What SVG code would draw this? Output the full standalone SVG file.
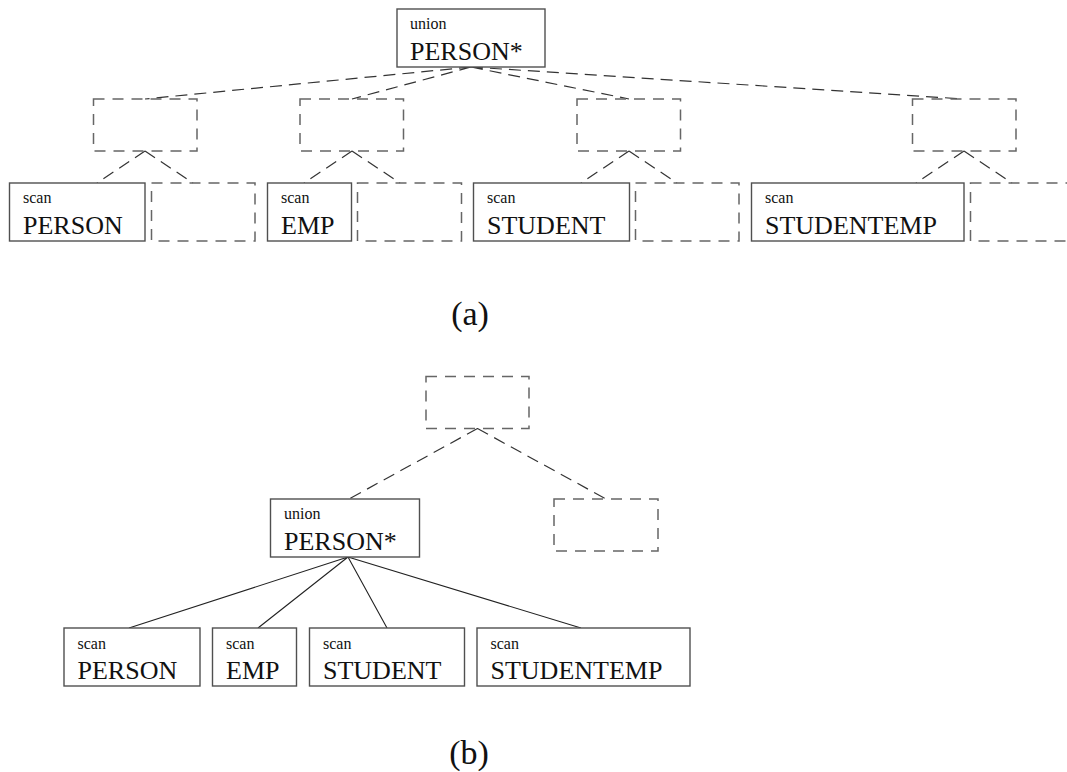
<svg xmlns="http://www.w3.org/2000/svg" width="1067" height="772" viewBox="0 0 1067 772">
  <style>
    .box { fill: #fff; stroke: #505050; stroke-width: 1.4; }
    .ghost { fill: none; stroke: #666; stroke-width: 1.5; stroke-dasharray: 11 8; }
    .dash { fill: none; stroke: #333; stroke-width: 1.2; stroke-dasharray: 12 7; }
    .solid { fill: none; stroke: #222; stroke-width: 1.1; }
    .op { font-family: "Liberation Serif", "Times New Roman", serif; font-size: 16px; fill: #111; }
    .rel { font-family: "Liberation Serif", "Times New Roman", serif; font-size: 26px; fill: #111; }
    .cap { font-family: "Liberation Serif", "Times New Roman", serif; font-size: 34px; fill: #111; text-anchor: middle; }
  </style>
  <rect width="1067" height="772" fill="#fff"/>

  <!-- (a): union pushed below the intermediate operators -->
  <g id="edges-a">
    <path class="dash" d="M471 67 L145 99 M471 67 L352 99 M471 67 L629 99 M471 67 L964 99"/>
    <path class="dash" d="M145 151 L97 183 M145 151 L193 183"/>
    <path class="dash" d="M352 151 L304 183 M352 151 L400 183"/>
    <path class="dash" d="M629 151 L581 183 M629 151 L677 183"/>
    <path class="dash" d="M964 151 L916 183 M964 151 L1012 183"/>
  </g>

  <g id="a-union">
    <rect class="box" x="397" y="9" width="148" height="58"/>
    <text class="op" x="410" y="28.5">union</text>
    <text class="rel" x="410" y="60">PERSON*</text>
  </g>

  <g id="a-op1"><rect class="ghost" x="93.5" y="99" width="103.5" height="52"/></g>
  <g id="a-op2"><rect class="ghost" x="300" y="99" width="103.5" height="52"/></g>
  <g id="a-op3"><rect class="ghost" x="577" y="99" width="103.5" height="52"/></g>
  <g id="a-op4"><rect class="ghost" x="912.5" y="99" width="103.5" height="52"/></g>

  <g id="a-scan-person">
    <rect class="box" x="9.5" y="183" width="135.5" height="58"/>
    <text class="op" x="23" y="203">scan</text>
    <text class="rel" x="23" y="233.5">PERSON</text>
  </g>
  <g id="a-sub1"><rect class="ghost" x="151.5" y="183" width="103.5" height="58"/></g>

  <g id="a-scan-emp">
    <rect class="box" x="267.5" y="183" width="84" height="58"/>
    <text class="op" x="281" y="203">scan</text>
    <text class="rel" x="281" y="233.5">EMP</text>
  </g>
  <g id="a-sub2"><rect class="ghost" x="357.5" y="183" width="104" height="58"/></g>

  <g id="a-scan-student">
    <rect class="box" x="473.5" y="183" width="156" height="58"/>
    <text class="op" x="487" y="203">scan</text>
    <text class="rel" x="487" y="233.5">STUDENT</text>
  </g>
  <g id="a-sub3"><rect class="ghost" x="635.5" y="183" width="103.5" height="58"/></g>

  <g id="a-scan-studentemp">
    <rect class="box" x="751.5" y="183" width="212.5" height="58"/>
    <text class="op" x="765" y="203">scan</text>
    <text class="rel" x="765" y="233.5">STUDENTEMP</text>
  </g>
  <g id="a-sub4"><rect class="ghost" x="970.5" y="183" width="104" height="58"/></g>

  <text class="cap" x="470" y="325">(a)</text>

  <!-- (b): union kept together under one operator -->
  <g id="edges-b">
    <path class="dash" d="M477.5 428.5 L349 499 M477.5 428.5 L606 499"/>
    <path class="solid" d="M348 557 L129 628 M348 557 L258 628 M348 557 L387 628 M348 557 L581 628"/>
  </g>

  <g id="b-op"><rect class="ghost" x="426" y="376.5" width="103" height="52"/></g>
  <g id="b-sub"><rect class="ghost" x="554" y="499" width="104" height="52"/></g>

  <g id="b-union">
    <rect class="box" x="270.5" y="499" width="149" height="58"/>
    <text class="op" x="284" y="518.5">union</text>
    <text class="rel" x="284" y="550">PERSON*</text>
  </g>

  <g id="b-scan-person">
    <rect class="box" x="64" y="628" width="136" height="58"/>
    <text class="op" x="77.5" y="648.5">scan</text>
    <text class="rel" x="77.5" y="678.5">PERSON</text>
  </g>
  <g id="b-scan-emp">
    <rect class="box" x="212.5" y="628" width="84" height="58"/>
    <text class="op" x="226" y="648.5">scan</text>
    <text class="rel" x="226" y="678.5">EMP</text>
  </g>
  <g id="b-scan-student">
    <rect class="box" x="309.5" y="628" width="155" height="58"/>
    <text class="op" x="323" y="648.5">scan</text>
    <text class="rel" x="323" y="678.5">STUDENT</text>
  </g>
  <g id="b-scan-studentemp">
    <rect class="box" x="477" y="628" width="213" height="58"/>
    <text class="op" x="490.5" y="648.5">scan</text>
    <text class="rel" x="490.5" y="678.5">STUDENTEMP</text>
  </g>

  <text class="cap" x="469" y="764">(b)</text>
</svg>
